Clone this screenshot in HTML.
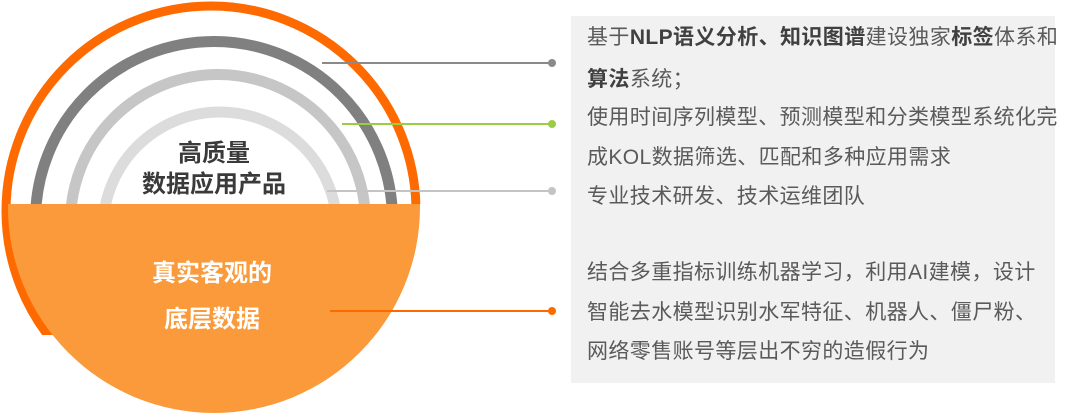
<!DOCTYPE html>
<html><head><meta charset="utf-8"><style>
body{margin:0;width:1080px;height:413px;background:#fff;overflow:hidden;position:relative;font-family:"Liberation Sans","Noto Sans CJK SC",sans-serif}
.panel{position:absolute;left:571px;top:16px;width:484px;height:367px;background:#f1f1f1}
.t{position:absolute;left:587px;font-size:21px;color:#5a5a5a;white-space:nowrap;line-height:24px;letter-spacing:0.4px}
.t b{color:#404040}
</style></head><body>
<div class="panel"></div>
<svg width="1080" height="413" style="position:absolute;left:0;top:0">
<defs>
<clipPath id="top"><rect x="0" y="0" width="560" height="204"/></clipPath>
<clipPath id="ring"><rect x="0" y="0" width="560" height="204"/><polygon points="0,203 200,203 70,335 0,335"/></clipPath>
<clipPath id="bot"><rect x="0" y="204" width="560" height="220"/></clipPath>
</defs>
<circle cx="211" cy="211" r="205" fill="none" stroke="#ff6a00" stroke-width="9" clip-path="url(#ring)"/>
<g clip-path="url(#top)" fill="none" stroke-width="11">
<circle cx="214" cy="220" r="178.5" stroke="#808080"/>
<circle cx="218" cy="222" r="147.5" stroke="#c6c6c6"/>
<circle cx="220" cy="229" r="117" stroke="#dcdcdc"/>
</g>
<circle cx="214" cy="207" r="206" fill="#fb9a3a" clip-path="url(#bot)"/>
<g stroke-width="2">
<line x1="322" y1="63" x2="552" y2="63" stroke="#8a8a8a"/>
<line x1="342" y1="124" x2="552" y2="124" stroke="#9acd44"/>
<line x1="327" y1="191" x2="552" y2="191" stroke="#c4c4c4"/>
<line x1="330" y1="311" x2="552" y2="311" stroke="#ff6a00"/>
</g>
<circle cx="552" cy="63" r="4" fill="#8a8a8a"/>
<circle cx="552" cy="124" r="4" fill="#9acd44"/>
<circle cx="552" cy="191" r="4" fill="#c4c4c4"/>
<circle cx="552" cy="311" r="4" fill="#ff6a00"/>
<g font-family="'Liberation Sans','Noto Sans CJK SC',sans-serif" font-weight="bold" font-size="24" text-anchor="middle">
<text x="214" y="161" fill="#3a3a3a">高质量</text>
<text x="214" y="192" fill="#3a3a3a">数据应用产品</text>
<text x="212" y="281" fill="#fff">真实客观的</text>
<text x="212" y="327" fill="#fff">底层数据</text>
</g>
</svg>
<div class="t" style="top:26px"><span>基于</span><b>NLP语义分析、知识图谱</b>建设独家<b>标签</b>体系和</div>
<div class="t" style="top:68px"><b>算法</b>系统；</div>
<div class="t" style="top:106px">使用时间序列模型、预测模型和分类模型系统化完</div>
<div class="t" style="top:146px">成KOL数据筛选、匹配和多种应用需求</div>
<div class="t" style="top:185px">专业技术研发、技术运维团队</div>
<div class="t" style="top:261px">结合多重指标训练机器学习，利用AI建模，设计</div>
<div class="t" style="top:301px">智能去水模型识别水军特征、机器人、僵尸粉、</div>
<div class="t" style="top:340px">网络零售账号等层出不穷的造假行为</div>
</body></html>
